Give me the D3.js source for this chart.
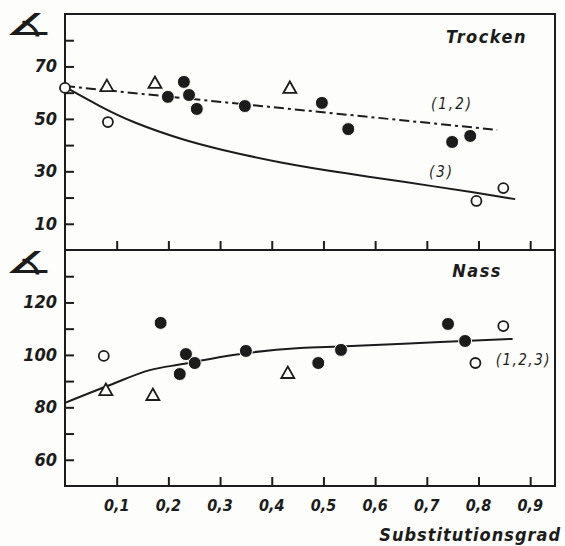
<!DOCTYPE html>
<html>
<head>
<meta charset="utf-8">
<script src="https://cdn.jsdelivr.net/npm/d3@7"></script>
<style>
  body { margin: 0; background: #fdfdfb; }
  svg text { font-family: "DejaVu Sans Condensed", "DejaVu Sans", sans-serif; font-style: italic; fill: #1c1c1c; }
</style>
</head>
<body>
<div id="chart"></div>
<script>
const width = 565;
const height = 546;
const ink = "#1c1c1c";

// x axis (Substitutionsgrad)
const xTicks = [0.1, 0.2, 0.3, 0.4, 0.5, 0.6, 0.7, 0.8, 0.9];
const xTickLabels = ["0,1", "0,2", "0,3", "0,4", "0,5", "0,6", "0,7", "0,8", "0,9"];

// top panel: Trocken
const topTicks = [10, 20, 30, 40, 50, 60, 70, 80];
const topTickLabels = [10, 30, 50, 70];
const topFilled = [[0.199, 58.4], [0.230, 64.1], [0.240, 59.1], [0.255, 53.8], [0.348, 54.9],
                   [0.497, 56.1], [0.548, 46.1], [0.749, 41.2], [0.784, 43.5]];
const topOpen = [[0, 61.8], [0.083, 48.8], [0.796, 18.7], [0.848, 23.6]];
const topTri = [[0.081, 62.5], [0.174, 63.7], [0.435, 61.8]];
const topLine12 = [[0, 62.5], [0.836, 45.8]];
const topLine3 = [[0, 62.2], [0.067, 54.8], [0.131, 48.6], [0.228, 42.0], [0.294, 38.6],
                  [0.416, 33.2], [0.55, 29.0], [0.649, 26.2], [0.804, 21.6], [0.871, 19.4]];

// bottom panel: Nass
const botTicks = [60, 70, 80, 90, 100, 110, 120, 130];
const botTickLabels = [60, 80, 100, 120];
const botFilled = [[0.185, 112.2], [0.234, 100.3], [0.222, 92.7], [0.251, 96.9], [0.350, 101.5],
                   [0.490, 96.9], [0.534, 101.9], [0.741, 111.8], [0.774, 105.3]];
const botOpen = [[0.075, 99.6], [0.848, 111.0], [0.794, 96.9]];
const botTri = [[0.079, 86.6], [0.170, 84.7], [0.431, 93.1]];
const botLine = [[0, 81.7], [0.087, 88.5], [0.164, 94.2], [0.228, 96.5], [0.325, 100],
                 [0.455, 102.6], [0.532, 103.2], [0.726, 104.9], [0.866, 106.1]];

const x = d3.scaleLinear().domain([0, 0.948]).range([65, 555]);
const yTop = d3.scaleLinear().domain([0, 90]).range([250, 14]);
const yBot = d3.scaleLinear().domain([50, 140]).range([486, 250]);

const svg = d3.select("#chart").append("svg")
    .attr("width", width)
    .attr("height", height);

// frames
function frame(y) {
    svg.append("rect")
        .attr("x", x.range()[0]).attr("y", y.range()[1])
        .attr("width", x.range()[1] - x.range()[0])
        .attr("height", y.range()[0] - y.range()[1])
        .attr("fill", "none").attr("stroke", ink).attr("stroke-width", 2);
}
frame(yTop);
frame(yBot);

// y axes with inward ticks
function yAxis(y, ticks, labels) {
    const g = svg.append("g").attr("transform", `translate(${x.range()[0]},0)`);
    g.call(d3.axisRight(y).tickValues(ticks).tickSize(9).tickFormat(""));
    g.select(".domain").remove();
    g.selectAll(".tick line").attr("stroke", ink).attr("stroke-width", 2);
    svg.selectAll(null).data(labels).join("text")
        .attr("x", x.range()[0] - 8)
        .attr("y", d => y(d) + 6)
        .attr("text-anchor", "end")
        .attr("font-size", 18)
        .attr("font-weight", "bold")
        .text(d => d);
}
yAxis(yTop, topTicks, topTickLabels);
yAxis(yBot, botTicks, botTickLabels);

// x ticks: on the shared boundary (pointing up) and on the bottom
function xAxis(yPos) {
    const g = svg.append("g").attr("transform", `translate(0,${yPos})`);
    g.call(d3.axisTop(x).tickValues(xTicks).tickSize(9).tickFormat(""));
    g.select(".domain").remove();
    g.selectAll(".tick line").attr("stroke", ink).attr("stroke-width", 2);
}
xAxis(yTop.range()[0]);
xAxis(yBot.range()[0]);

svg.selectAll(null).data(xTicks).join("text")
    .attr("x", d => x(d))
    .attr("y", 511)
    .attr("text-anchor", "middle")
    .attr("font-size", 16)
    .attr("font-weight", "bold")
    .text((d, i) => xTickLabels[i]);

svg.append("text")
    .attr("x", 561).attr("y", 541)
    .attr("text-anchor", "end")
    .attr("font-size", 18)
    .attr("font-weight", "bold")
    .attr("letter-spacing", 1)
    .text("Substitutionsgrad");

// angle symbols as axis labels
[[29, 35], [29, 273]].forEach(([ax, ay]) => {
    svg.append("text")
        .attr("transform", `translate(${ax},${ay}) scale(1.45,0.72)`)
        .attr("text-anchor", "middle")
        .attr("font-size", 42)
        .attr("font-style", "normal")
        .text("\u2221");
});

// lines
const line = y => d3.line().x(d => x(d[0])).y(d => y(d[1])).curve(d3.curveMonotoneX);
svg.append("path").datum(topLine12)
    .attr("d", line(yTop)).attr("fill", "none").attr("stroke", ink)
    .attr("stroke-width", 2).attr("stroke-dasharray", "10,4,3,4");
svg.append("path").datum(topLine3)
    .attr("d", line(yTop).curve(d3.curveBasis)).attr("fill", "none").attr("stroke", ink).attr("stroke-width", 2);
svg.append("path").datum(botLine)
    .attr("d", line(yBot)).attr("fill", "none").attr("stroke", ink).attr("stroke-width", 2);

// markers
function markers(y, filled, open, tri) {
    svg.selectAll(null).data(open).join("circle")
        .attr("cx", d => x(d[0])).attr("cy", d => y(d[1])).attr("r", 5)
        .attr("fill", "#fdfdfb").attr("stroke", ink).attr("stroke-width", 1.8);
    svg.selectAll(null).data(tri).join("path")
        .attr("transform", d => `translate(${x(d[0])},${y(d[1])})`)
        .attr("d", "M0,-6.5L6.5,5L-6.5,5Z")
        .attr("fill", "#fdfdfb").attr("stroke", ink).attr("stroke-width", 1.8);
    svg.selectAll(null).data(filled).join("circle")
        .attr("cx", d => x(d[0])).attr("cy", d => y(d[1])).attr("r", 6.5)
        .attr("fill", ink).attr("stroke", "#fdfdfb").attr("stroke-width", 1);
}
markers(yTop, topFilled, topOpen, topTri);
markers(yBot, botFilled, botOpen, botTri);

// panel labels
const labels = [
    ["Trocken", 527, 43, 18, "bold", 1.5],
    ["Nass", 502, 277, 18, "bold", 1.5],
    ["(1,2)", 473, 109, 15, "normal", 2],
    ["(3)", 454, 177, 15, "normal", 2],
    ["(1,2,3)", 551, 365, 15, "normal", 1.5]
];
labels.forEach(([t, lx, ly, fs, fw, ls]) => {
    svg.append("text")
        .attr("x", lx).attr("y", ly)
        .attr("text-anchor", "end")
        .attr("font-size", fs)
        .attr("font-weight", fw)
        .attr("letter-spacing", ls)
        .text(t);
});
</script>
</body>
</html>
